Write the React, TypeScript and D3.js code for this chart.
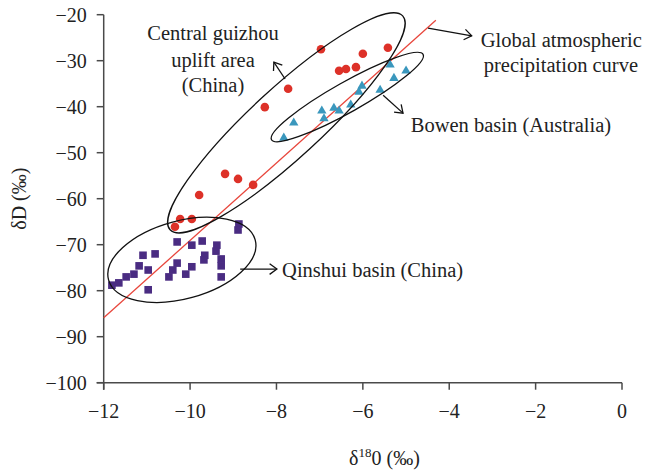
import * as d3 from 'd3';

const guizhouX = [-6.97, -6.0, -5.42, -6.55, -6.39, -6.16, -7.73, -8.27, -9.19, -8.89, -8.54, -9.79, -10.23, -9.96, -10.35];
const guizhouY = [-27.5, -28.5, -27.2, -32.2, -31.8, -31.4, -36.1, -40.1, -54.6, -55.7, -57.0, -59.2, -64.4, -64.4, -66.1];

const bowenX = [-7.83, -7.6, -6.95, -6.9, -6.67, -6.55, -6.28, -6.09, -6.02, -5.6, -5.37, -5.28, -5.0];
const bowenY = [-46.8, -43.5, -40.9, -42.6, -40.3, -40.9, -39.6, -36.8, -35.5, -36.4, -30.9, -33.8, -32.2];

const qinshuiX = [-8.87, -8.89, -10.3, -9.96, -9.72, -9.38, -9.4, -11.09, -10.81, -9.66, -9.68, -9.28, -10.3, -11.18, -9.28, -10.4, -10.97, -9.96, -11.3, -10.1, -11.48, -10.49, -9.28, -11.65, -11.81, -10.97];
const qinshuiY = [-65.5, -66.8, -69.4, -70.1, -69.2, -70.1, -71.4, -72.3, -72.0, -72.3, -73.3, -73.1, -74.0, -74.6, -74.6, -75.5, -75.5, -74.8, -76.4, -76.4, -77.0, -77.0, -77.0, -78.3, -78.8, -79.8];

// global meteoric water line end points
const lineX = [-12, -4.31];
const lineY = [-85.9, -21.2];

const xTicks = [-12, -10, -8, -6, -4, -2, 0];
const yTicks = [-20, -30, -40, -50, -60, -70, -80, -90, -100];

const W = 650, H = 470;
const margin = { top: 14.7, right: 28, bottom: 87.3, left: 103.7 };

const font = '"Liberation Serif", "DejaVu Serif", serif';

const App = () => {
    const x = d3.scaleLinear().domain([-12, 0]).range([margin.left, W - margin.right]);
    const y = d3.scaleLinear().domain([-100, -20]).range([H - margin.bottom, margin.top]);

    const axisColor = '#4a4a4a';
    const tick = 7;

    // arrow with an open head
    const arrow = (x1, y1, x2, y2, key) => {
        const px1 = x(x1), py1 = y(y1), px2 = x(x2), py2 = y(y2);
        const ang = Math.atan2(py2 - py1, px2 - px1);
        const len = 9, spread = Math.PI / 5;
        const a1 = [px2 - len * Math.cos(ang - spread), py2 - len * Math.sin(ang - spread)];
        const a2 = [px2 - len * Math.cos(ang + spread), py2 - len * Math.sin(ang + spread)];
        return (
            <g key={key} stroke="#111" strokeWidth={1.3} fill="none">
                <line x1={px1} y1={py1} x2={px2} y2={py2} />
                <polyline points={`${a1[0]},${a1[1]} ${px2},${py2} ${a2[0]},${a2[1]}`} />
            </g>
        );
    };

    const ellipse = (cx, cy, rx, ry, rot, key) => (
        <ellipse key={key} cx={0} cy={0} rx={rx} ry={ry}
            transform={`translate(${x(cx)},${y(cy)}) rotate(${rot})`}
            fill="none" stroke="#111" strokeWidth={1.3} />
    );

    const triangle = d3.symbol().type(d3.symbolTriangle).size(38)();

    return (
        <svg width={W} height={H} style={{ position: 'absolute', left: 0, top: 0, background: 'white' }}
            fontFamily={font}>
            {/* axes */}
            <g stroke={axisColor} strokeWidth={1.5}>
                <line x1={x(-12)} y1={y(-20)} x2={x(-12)} y2={y(-100) + tick} />
                <line x1={x(-12) - tick} y1={y(-100)} x2={x(0)} y2={y(-100)} />
                {yTicks.map(t => (
                    <line key={t} x1={x(-12) - tick} x2={x(-12)} y1={y(t)} y2={y(t)} />
                ))}
                {xTicks.map(t => (
                    <line key={t} x1={x(t)} x2={x(t)} y1={y(-100)} y2={y(-100) + tick} />
                ))}
            </g>
            <g fontSize={20} fill="#222">
                {yTicks.map(t => (
                    <text key={t} x={x(-12) - 17} y={y(t)} dy="0.35em" textAnchor="end">
                        {t.toString().replace('-', '\u2212')}
                    </text>
                ))}
                {xTicks.map(t => (
                    <text key={t} x={x(t)} y={y(-100) + 28} dy="0.35em" textAnchor="middle">
                        {t.toString().replace('-', '\u2212')}
                    </text>
                ))}
            </g>
            <text fontSize={20} fill="#222" textAnchor="middle"
                transform={`translate(19,${y(-60)}) rotate(-90)`} dy="0.35em">δD (‰)</text>
            <text fontSize={20} fill="#222" textAnchor="middle" x={x(-5.5)} y={465}>
                δ<tspan fontSize={13} dy={-8}>18</tspan><tspan dy={8}>0 (‰)</tspan>
            </text>

            {/* water line */}
            <line x1={x(lineX[0])} y1={y(lineY[0])} x2={x(lineX[1])} y2={y(lineY[1])}
                stroke="#e8463c" strokeWidth={1.3} />

            {/* points */}
            {qinshuiX.map((v, i) => (
                <rect key={'q' + i} x={x(v) - 3.8} y={y(qinshuiY[i]) - 3.8} width={7.6} height={7.6} fill="#4a2c82" />
            ))}
            {bowenX.map((v, i) => (
                <path key={'b' + i} d={triangle} transform={`translate(${x(v)},${y(bowenY[i])})`} fill="#3a97bd" />
            ))}
            {guizhouX.map((v, i) => (
                <circle key={'g' + i} cx={x(v)} cy={y(guizhouY[i])} r={4.3} fill="#dd3128" />
            ))}

            {/* ellipses */}
            {ellipse(-7.77, -43.5, 158, 35, -42.6, 'e1')}
            {ellipse(-6.36, -37.9, 87, 15, -29.4, 'e2')}
            {ellipse(-10.19, -73.3, 76, 39, -15.3, 'e3')}

            {/* annotations */}
            {arrow(-7.8, -33.98, -8.06, -30.3, 'a1')}
            {arrow(-4.49, -22.9, -3.48, -24.6, 'a2')}
            {arrow(-5.53, -37.5, -5.07, -41.4, 'a3')}
            {arrow(-8.84, -75.3, -7.99, -75.3, 'a4')}

            <g fontSize={20.5} fill="#222">
                <text textAnchor="middle" x={x(-9.47)} y={y(-23.9)} dy="0.35em">Central guizhou</text>
                <text textAnchor="middle" x={x(-9.47)} y={y(-29.8)} dy="0.35em">uplift area</text>
                <text textAnchor="middle" x={x(-9.47)} y={y(-35.2)} dy="0.35em">(China)</text>
                <text x={x(-3.27)} y={y(-25.5)} dy="0.35em">Global atmospheric</text>
                <text x={x(-3.2)} y={y(-30.9)} dy="0.35em">precipitation curve</text>
                <text x={x(-4.89)} y={y(-43.9)} dy="0.35em">Bowen basin (Australia)</text>
                <text x={x(-7.87)} y={y(-75.4)} dy="0.35em">Qinshui basin (China)</text>
            </g>
        </svg>
    );
};

export default App;
